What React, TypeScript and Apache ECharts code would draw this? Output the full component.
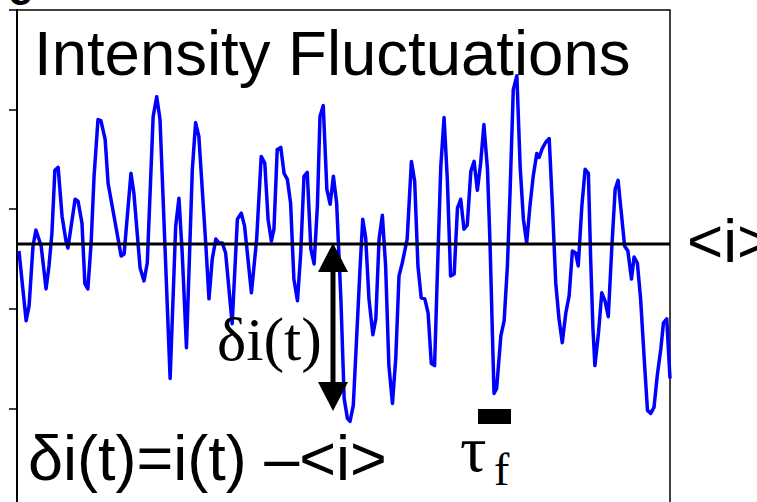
import React, { useEffect, useRef } from "react";
import * as echarts from "echarts";

// time (sample index) and intensity values
const T = [
  0.6, 2.8, 3.7, 4.9, 5.8, 7.4, 8.9, 9.8, 10.7, 11.6, 12.6, 13.8, 15.0, 15.6, 17.8, 18.7, 19.9, 20.8, 21.7, 22.7, 23.6, 24.8, 25.7, 27.0, 27.9, 31.9, 32.8, 34.9, 35.8, 37.7, 38.9,
  39.9, 41.7, 42.8, 43.8, 46.9, 48.6, 49.6, 50.6, 51.9, 53.7, 54.7, 55.7, 57.8, 58.8, 59.8, 60.9, 61.9, 62.9, 63.9, 65.9, 67.5, 68.7, 69.7, 71.8, 73.4, 74.8, 75.9, 76.9, 77.9,
  78.7, 79.7, 80.8, 81.8, 82.8, 83.8, 84.8, 85.9, 86.9, 87.9, 88.9, 90.0, 91.0, 92.0, 92.8, 93.8, 94.9, 95.9, 96.9, 97.9, 99.2, 100.2, 101.2, 102.0, 103.0, 104.1, 105.1, 105.9, 106.8, 107.8, 109.0, 109.9, 110.9, 111.9, 112.9, 113.9, 115.0, 116.0, 117.0, 118.0,
  119.5, 120.8, 121.8, 122.8, 123.8, 124.9, 125.9, 126.9, 127.9, 128.7, 129.8, 130.8, 131.8, 132.8, 133.9, 134.9, 135.9, 136.9, 137.9, 139.0, 140.0, 141.0, 142.0, 143.0, 144.1, 144.9, 145.6, 146.1, 146.9, 148.2, 149.2, 150.2, 151.0, 152.0, 153.1, 154.1, 155.1, 156.1, 157.1, 158.1,
  159.2, 159.9, 160.9, 161.9, 163.0, 164.0, 165.0, 166.0, 167.0, 168.1, 169.1, 170.1, 171.1, 171.9, 173.0, 174.0, 175.0, 175.7, 176.4, 177.0, 178.1, 179.1, 180.1, 181.1, 182.2, 183.2, 184.1, 185.1, 186.1, 187.1, 188.2, 189.0, 190.0, 191.0, 192.1, 193.1, 194.1, 195.1, 196.1, 197.2, 198.0, 199.0, 200.0,
];

const INTENSITY = [
  2.58, 1.88, 2.03, 2.63, 2.79, 2.63, 2.2, 2.43, 2.76, 3.39, 3.42, 2.93, 2.68, 2.61, 3.1, 3.08, 2.86, 2.25, 2.2, 2.66, 3.33, 3.9, 3.89, 3.7, 3.26, 2.53, 2.55, 3.36, 3.16, 2.41, 2.28,
  2.46, 3.93, 4.13, 3.9, 1.3, 2.83, 3.11, 2.56, 1.61, 3.4, 3.87, 3.73, 2.66, 2.1, 2.5, 2.7, 2.66, 2.66, 2.56, 1.85, 2.9, 2.96, 2.83, 2.16, 2.7, 3.53, 3.46, 2.9, 2.68,
  2.8, 3.6, 3.62, 3.36, 3.3, 3.06, 2.3, 2.08, 2.56, 3.33, 3.37, 2.6, 2.45, 3.03, 3.93, 4.04, 3.2, 3.05, 3.33, 3.06, 2.1, 1.1, 0.9, 0.87, 1.03, 1.76, 2.43, 2.9, 2.71, 2.1, 1.74, 1.9, 2.7, 2.94, 2.43, 1.43, 1.05, 1.5, 2.33, 2.46,
  2.7, 3.48, 3.28, 2.43, 2.11, 2.1, 1.96, 1.45, 1.43, 2.3, 3.43, 3.92, 3.3, 2.33, 2.35, 3.01, 3.1, 2.8, 2.84, 3.38, 3.48, 3.19, 3.46, 3.85, 3.4, 2.63, 1.76, 1.15, 1.2, 1.73, 1.88, 2.43, 3.16, 4.2, 4.34, 3.43, 2.9, 2.66, 3.03, 3.33,
  3.56, 3.52, 3.61, 3.67, 3.71, 3.03, 2.26, 1.9, 1.66, 1.96, 2.13, 2.58, 2.56, 2.43, 3.03, 3.4, 3.36, 2.5, 1.8, 1.43, 1.76, 2.16, 2.08, 1.92, 2.63, 3.2, 3.29, 2.96, 2.63, 2.58, 2.3, 2.52, 2.46, 2.1, 1.5, 0.98, 0.95, 1.01, 1.33, 1.6, 1.86, 1.9, 1.3,
];

const MEAN = 2.65;
const T_RANGE = [0, 200];
const Y_RANGE = [0, 5];
const Y_INTERVAL = 1;

const TITLE = "Intensity Fluctuations";
const MEAN_LABEL = "<i>";
const DELTA_LABEL = "\u03b4i(t)";
const FORMULA = "\u03b4i(t)=i(t) \u2013<i>";
const TAU = "\u03c4";
const TAU_SUB = "f";

export default function App() {
  const ref = useRef<HTMLDivElement>(null);
  useEffect(() => {
    const chart = echarts.init(ref.current!, null, { renderer: "svg" });
    const data = T.map((t, i) => [t, INTENSITY[i]]);
    const sans = '"Liberation Sans", Arial, sans-serif';
    const serif = '"Liberation Serif", "Times New Roman", serif';
    chart.setOption({
      animation: false,
      backgroundColor: "#fff",
      grid: {
        left: 17,
        right: 87,
        top: 10,
        bottom: 12,
        show: true,
        borderColor: "#000",
        borderWidth: 1.5,
        backgroundColor: "transparent",
      },
      xAxis: {
        type: "value",
        min: T_RANGE[0],
        max: T_RANGE[1],
        show: false,
        splitLine: { show: false },
      },
      yAxis: {
        type: "value",
        min: Y_RANGE[0],
        max: Y_RANGE[1],
        interval: Y_INTERVAL,
        axisLine: { show: true, lineStyle: { color: "#000", width: 2 } },
        axisTick: { show: true, inside: false, length: 8, lineStyle: { color: "#000", width: 1.5 } },
        axisLabel: { show: false },
        splitLine: { show: false },
      },
      series: [
        {
          type: "line",
          data,
          showSymbol: false,
          symbol: "none",
          lineStyle: { color: "#0000ff", width: 3.5, join: "round" },
          z: 2,
        },
        {
          type: "line",
          data: [
            [T_RANGE[0], MEAN],
            [T_RANGE[1], MEAN],
          ],
          showSymbol: false,
          symbol: "none",
          lineStyle: { color: "#000", width: 3 },
          z: 3,
        },
      ],
      graphic: [
        {
          type: "text",
          x: 8,
          y: -11,
          z: 100,
          style: { text: "e", font: `bold 44px ${sans}`, fill: "#000", textAlign: "left", textVerticalAlign: "middle" },
        },
        {
          type: "text",
          x: 34,
          y: 53,
          z: 100,
          style: { text: TITLE, font: `63.5px ${sans}`, fill: "#000", textAlign: "left", textVerticalAlign: "middle" },
        },
        {
          type: "text",
          x: 687,
          y: 240,
          z: 100,
          style: { text: MEAN_LABEL, font: `62px ${sans}`, fill: "#000", textAlign: "left", textVerticalAlign: "middle" },
        },
        {
          type: "text",
          x: 28,
          y: 458,
          z: 100,
          style: { text: FORMULA, font: `63px ${sans}`, fill: "#000", textAlign: "left", textVerticalAlign: "middle" },
        },
        {
          type: "text",
          x: 217,
          y: 339,
          z: 100,
          style: { text: DELTA_LABEL, font: `62px ${serif}`, fill: "#000", textAlign: "left", textVerticalAlign: "middle" },
        },
        {
          type: "text",
          x: 460,
          y: 448,
          z: 100,
          style: { text: TAU, font: `66px ${serif}`, fill: "#000", textAlign: "left", textVerticalAlign: "middle" },
        },
        {
          type: "text",
          x: 494,
          y: 469,
          z: 100,
          style: { text: TAU_SUB, font: `46px ${serif}`, fill: "#000", textAlign: "left", textVerticalAlign: "middle" },
        },
        {
          type: "rect",
          z: 100,
          shape: { x: 478, y: 409, width: 33, height: 15 },
          style: { fill: "#000" },
        },
        {
          type: "line",
          z: 100,
          shape: { x1: 333, y1: 268, x2: 333, y2: 386 },
          style: { stroke: "#000", lineWidth: 5 },
        },
        {
          type: "polygon",
          z: 100,
          shape: { points: [[318, 272], [348, 272], [333, 243]] },
          style: { fill: "#000" },
        },
        {
          type: "polygon",
          z: 100,
          shape: { points: [[318, 382], [348, 382], [333, 411]] },
          style: { fill: "#000" },
        },
      ],
    });
    return () => chart.dispose();
  }, []);
  return (
    <div
      ref={ref}
      style={{ position: "fixed", left: 0, top: 0, width: 757, height: 520, background: "#fff" }}
    />
  );
}
